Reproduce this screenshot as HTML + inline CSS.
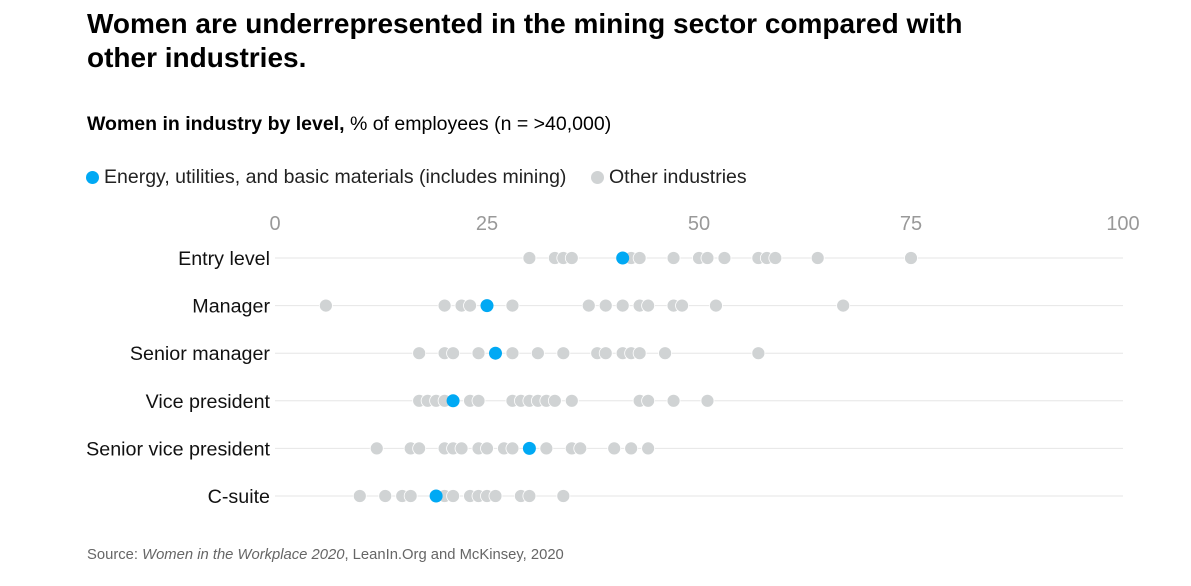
<!DOCTYPE html>
<html><head><meta charset="utf-8"><style>
body{margin:0;background:#fff;font-family:"Liberation Sans",sans-serif;}
.t{position:absolute;left:87px;top:7px;font-size:28px;font-weight:bold;color:#000;line-height:34px;}
.s{position:absolute;left:87px;top:113px;font-size:19.5px;color:#000;}
.lg{position:absolute;top:166px;font-size:19.5px;color:#222;}
.src{position:absolute;left:87px;top:547px;font-size:14.8px;color:#666;}
</style></head><body>
<div class="t">Women are underrepresented in the mining sector compared with<br>other industries.</div>
<div class="s"><b>Women in industry by level,</b> % of employees (n = &gt;40,000)</div>
<div class="lg" style="left:86px"><span style="display:inline-block;width:13px;height:13px;border-radius:50%;background:#00a9f4;margin-right:5px;vertical-align:-1px"></span>Energy, utilities, and basic materials (includes mining)</div>
<div class="lg" style="left:591px"><span style="display:inline-block;width:13px;height:13px;border-radius:50%;background:#d0d3d4;margin-right:5px;vertical-align:-1px"></span>Other industries</div>
<svg id="c" width="1191" height="586" style="position:absolute;left:0;top:0"></svg>
<div class="src">Source: <i>Women in the Workplace 2020</i>, LeanIn.Org and McKinsey, 2020</div>
<script>
const levels=["Entry level","Manager","Senior manager","Vice president","Senior vice president","C-suite"];
const energy=[41,25,26,21,30,19];
const other=[
[30,33,34,35,42,43,47,50,51,53,57,58,59,64,75],
[6,20,22,23,28,37,39,41,43,44,47,48,52,67],
[17,20,21,24,28,31,34,38,39,41,42,43,46,57],
[17,18,19,20,23,24,28,29,30,31,32,33,35,43,44,47,51],
[12,16,17,20,21,22,24,25,27,28,32,35,36,40,42,44],
[10,13,15,16,20,21,23,24,25,26,29,30,34]];
const ticks=[0,25,50,75,100];
const svg=document.getElementById('c'),NS='http://www.w3.org/2000/svg';
const x=v=>275+v*8.48, y=i=>258+i*47.6;
function mk(t,a){const e=document.createElementNS(NS,t);for(const k in a)e.setAttribute(k,a[k]);svg.appendChild(e);return e;}
ticks.forEach(v=>{const e=mk('text',{x:x(v),y:230,'text-anchor':'middle','font-size':20,fill:'#999','font-family':'Liberation Sans'});e.textContent=v;

});
levels.forEach((l,i)=>{
const g=mk('line',{x1:275,x2:1123,y1:y(i),y2:y(i),stroke:'#e6e6e6','stroke-width':1});


const t=mk('text',{x:270,y:y(i)+7,'text-anchor':'end','font-size':19.7,fill:'#111','font-family':'Liberation Sans'});t.textContent=l;


other[i].forEach(v=>{const c=mk('circle',{cx:x(v),cy:y(i),r:6.5,fill:'#d0d3d4',stroke:'#fff','stroke-width':0.8});

});
const b=mk('circle',{cx:x(energy[i]),cy:y(i),r:6.5,fill:'#00a9f4'});


});
</script>
</body></html>
